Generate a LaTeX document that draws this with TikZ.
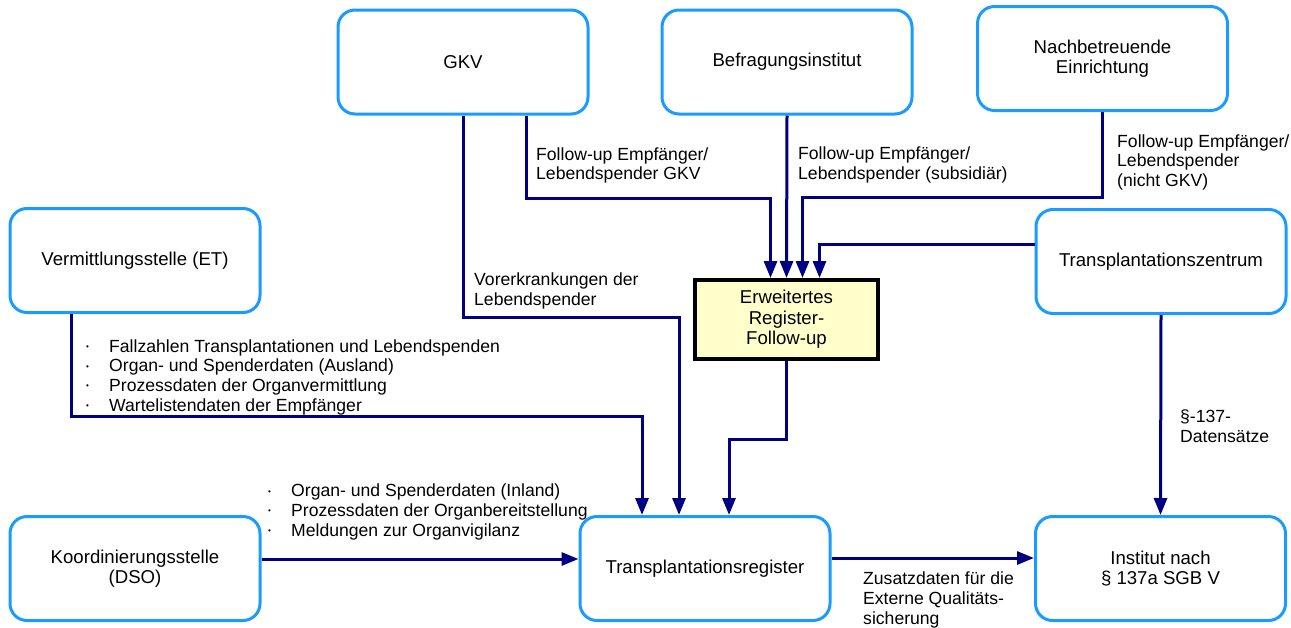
\documentclass[tikz,border=0pt]{standalone}
\usepackage{fontspec}
\setmainfont{Liberation Sans}
\usetikzlibrary{arrows.meta,calc}
\definecolor{boxblue}{RGB}{25,155,255}
\definecolor{flowblue}{RGB}{0,0,130}
\definecolor{regfill}{RGB}{255,255,204}
\newcommand\listdot{\makebox[23pt][l]{\raisebox{2.6pt}{\fontsize{8}{8}\selectfont •}}}

\begin{document}
\begin{tikzpicture}[x=1pt,y=-1pt,
  party/.style={draw=boxblue, line width=3pt, rounded corners=17pt, align=center,
    inner sep=0pt, minimum width=250pt, minimum height=104pt,
    font=\fontsize{18.6}{20.5}\selectfont},
  register/.style={draw=black, line width=4pt, fill=regfill, align=center,
    inner sep=0pt, minimum width=183pt, minimum height=79pt,
    font=\fontsize{18.6}{20.5}\selectfont},
  flow/.style={draw=flowblue, line width=3pt, -{Triangle[length=17pt,width=13pt]}},
  lbl/.style={anchor=base west, align=left, inner sep=0pt,
    font=\fontsize{17.6}{19.6}\selectfont}]

\useasboundingbox (0,0) rectangle (1291,627);

% parties
\node[party] (gkv)  at (463,62)      {GKV};
\node[party] (bef)  at (787,62)      {Befragungsinstitut};
\node[party] (nach) at (1102.5,58.5) {Nachbetreuende\\Einrichtung};
\node[party] (et)   at (135,260.5)   {Vermittlungsstelle (ET)};
\node[party] (tz)   at (1161,261.5)  {Transplantationszentrum};
\node[party] (dso)  at (135,568.5)   {Koordinierungsstelle\\(DSO)};
\node[party] (tr)   at (705,568.5)   {Transplantationsregister};
\node[party] (inst) at (1160.5,568.5){Institut nach\\§ 137a SGB V};
\node[register] (erw) at (786.5,319.5) {Erweitertes\\Register-\\Follow-up};

% flows into the extended follow-up register
\draw[flow] ($(gkv.south)+(63,0)$) -- ++(0,83) -| ($(erw.north)+(-16,0)$);
\draw[flow] (bef.south) -- (erw.north);
\draw[flow] (nach.south) -- ++(0,85) -| ($(erw.north)+(16,0)$);
\draw[flow] ($(tz.west)+(0,-17.5)$) -| ($(erw.north)+(33,0)$);

% flows into the transplant register
\draw[flow] ($(et.south west)+(63,0)$) -- ++(0,102) -| ($(tr.north)+(-63,0)$);
\draw[flow] (gkv.south) -- ++(0,202) -| ($(tr.north)+(-26,0)$);
\draw[flow] (erw.south) -- ++(0,78) -| ($(tr.north)+(24,0)$);
\draw[flow] ($(dso.east)+(0,-9.5)$) -- ($(tr.west)+(0,-9.5)$);

% flows into the institute
\draw[flow] ($(tr.east)+(0,-10.5)$) -- ($(inst.west)+(0,-10.5)$);
\draw[flow] (tz.south) -- (inst.north);

% data labels (anchored at the baseline of their last line)
\node[lbl] (l1) at (536,179.6) {Follow-up Empfänger/\\Lebendspender GKV};
\node[lbl] (l2) at (798,179) {Follow-up Empfänger/\\Lebendspender (subsidiär)};
\node[lbl] (l3) at (1117,186.5) {Follow-up Empfänger/\\Lebendspender\\(nicht GKV)};
\node[lbl] (l4) at (474,305) {Vorerkrankungen der\\Lebendspender};
\node[lbl] (l5) at (86,411) {\listdot Fallzahlen Transplantationen und Lebendspenden\\
  \listdot Organ- und Spenderdaten (Ausland)\\
  \listdot Prozessdaten der Organvermittlung\\
  \listdot Wartelistendaten der Empfänger};
\node[lbl] (l6) at (268,536) {\listdot Organ- und Spenderdaten (Inland)\\
  \listdot Prozessdaten der Organbereitstellung\\
  \listdot Meldungen zur Organvigilanz};
\node[lbl] (l7) at (1180,442) {§-137-\\Datensätze};
\node[lbl] (l8) at (863,624) {Zusatzdaten für die\\Externe Qualitäts-\\sicherung};

\end{tikzpicture}
\end{document}
